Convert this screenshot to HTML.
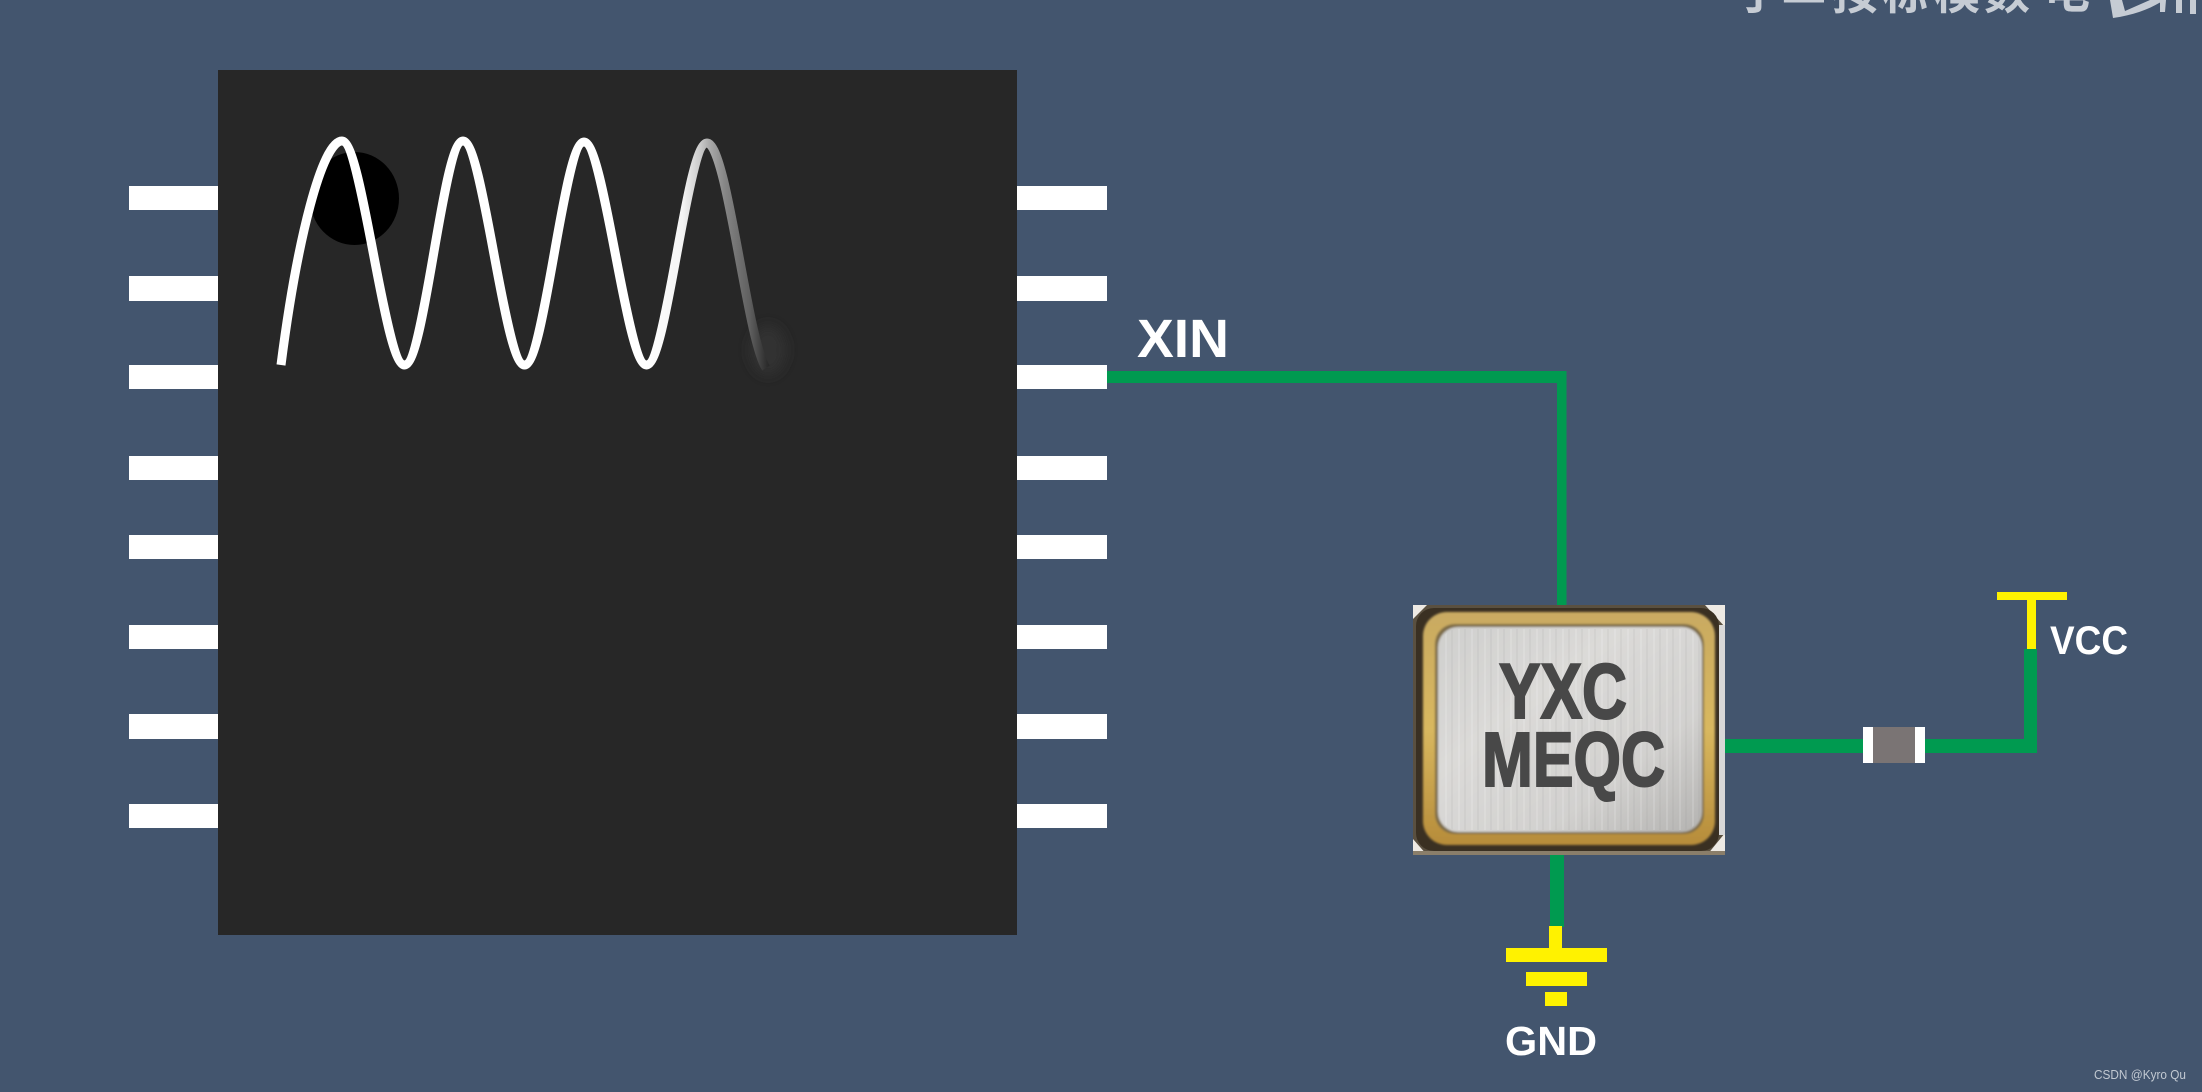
<!DOCTYPE html>
<html><head><meta charset="utf-8"><title>XIN crystal circuit</title>
<style>html,body{margin:0;padding:0;background:#43556e}svg{display:block}</style></head>
<body>
<svg xmlns="http://www.w3.org/2000/svg" width="2202" height="1092" viewBox="0 0 2202 1092">
<defs>
<linearGradient id="fade" gradientUnits="userSpaceOnUse" x1="646" y1="0" x2="768" y2="0">
<stop offset="0" stop-color="#fff"/><stop offset=".3" stop-color="#f4f4f4"/><stop offset=".45" stop-color="#c8c8c8"/><stop offset=".52" stop-color="#aaa"/><stop offset=".65" stop-color="#858585"/><stop offset=".85" stop-color="#606060"/><stop offset="1" stop-color="#2a2a2a"/>
</linearGradient>
<linearGradient id="lid" x1="0" y1="0" x2="1" y2="1">
<stop offset="0" stop-color="#cfcfcd"/><stop offset=".35" stop-color="#dbdad8"/><stop offset=".7" stop-color="#d2d1cf"/><stop offset="1" stop-color="#b4b3b1"/>
</linearGradient>
<linearGradient id="gold" x1="0" y1="0" x2="0" y2="1">
<stop offset="0" stop-color="#c9aa62"/><stop offset=".5" stop-color="#d9b85f"/><stop offset="1" stop-color="#b68c3a"/>
</linearGradient>
<pattern id="brush" width="13" height="10" patternUnits="userSpaceOnUse">
<rect x="2" width="2" height="10" fill="#fff" opacity=".14"/><rect x="8" width="2" height="10" fill="#777" opacity=".08"/>
</pattern>
<filter id="soft" x="-10%" y="-10%" width="120%" height="120%"><feGaussianBlur stdDeviation="1"/></filter>
<filter id="smudge" x="-50%" y="-50%" width="200%" height="200%"><feGaussianBlur stdDeviation="6"/></filter>
</defs>
<rect width="2202" height="1092" fill="#43556e"/>

<!-- watermark cut at top -->
<g font-family="'Liberation Sans','Noto Sans CJK SC',sans-serif" font-weight="700" font-size="46" fill="#c6ccd4">
<text x="1735" y="9">于</text>
<text x="1781" y="1">三</text>
<text x="1832" y="9">按</text>
<text x="1882" y="9">标</text>
<text x="1934" y="9">模</text>
<text x="1984" y="9">数</text>
<text x="2044" y="8">电</text>
</g>
<path d="M2110 0 L2113 18 C2135 15 2152 8 2164 0 L2150 0 L2125 11 L2122 0 Z" fill="#c6ccd4"/>
<path d="M2160 0h6l-1 12h-5zM2176 0h6v13h-6zM2190 0h6v14h-6z" fill="#c6ccd4"/>

<!-- chip -->
<rect x="218" y="70" width="799" height="865" fill="#272727"/>
<g fill="#fff">
<rect x="129" y="186" width="89" height="24"/><rect x="129" y="276" width="89" height="25"/>
<rect x="129" y="365" width="89" height="24"/><rect x="129" y="456" width="89" height="24"/>
<rect x="129" y="535" width="89" height="24"/><rect x="129" y="625" width="89" height="24"/>
<rect x="129" y="714" width="89" height="25"/><rect x="129" y="804" width="89" height="24"/>
<rect x="1017" y="186" width="90" height="24"/><rect x="1017" y="276" width="90" height="25"/>
<rect x="1017" y="365" width="90" height="24"/><rect x="1017" y="456" width="90" height="24"/>
<rect x="1017" y="535" width="90" height="24"/><rect x="1017" y="625" width="90" height="24"/>
<rect x="1017" y="714" width="90" height="25"/><rect x="1017" y="804" width="90" height="24"/>
</g>
<ellipse cx="354.5" cy="198.5" rx="44.5" ry="46.5" fill="#000"/>
<ellipse cx="768" cy="350" rx="18" ry="25" fill="#303030" filter="url(#smudge)"/>
<path d="M281 365 C297 240 322 141 342 141 C362 141 384.500 365 404.500 365 C424.500 365 443 141 463 141 C483 141 504.500 365 524.500 365 C544.500 365 564 142 584 142 C604 142 626.500 365 646.500 365" fill="none" stroke="#fff" stroke-width="9"/>
<path d="M646.500 365 C666.500 365 687 143 707 143 C727 143 747 340 766 368" fill="none" stroke="url(#fade)" stroke-width="9"/>

<!-- wires -->
<g fill="#009a50">
<rect x="1107" y="371" width="459" height="12"/>
<rect x="1557" y="371" width="9.500" height="235"/>
<rect x="1725" y="739" width="138" height="14"/>
<rect x="1925" y="739" width="112" height="14"/>
<rect x="2024" y="649" width="13" height="104"/>
<rect x="1550" y="855" width="14" height="72"/>
</g>

<!-- resistor -->
<rect x="1863" y="727" width="62" height="36" fill="#fff"/>
<rect x="1873" y="727" width="42" height="36" fill="#7a7474"/>

<g fill="#fff200">
<rect x="1997" y="592" width="70" height="8"/>
<rect x="2027" y="600" width="9" height="49"/>
<rect x="1549" y="926" width="13" height="23"/>
<rect x="1506" y="948" width="101" height="14"/>
<rect x="1526" y="972" width="61" height="14"/>
<rect x="1545" y="992" width="22" height="14"/>
</g>

<g font-family="'Liberation Sans',sans-serif" font-weight="700" fill="#fff">
<text x="1137" y="357" font-size="54" textLength="92" lengthAdjust="spacingAndGlyphs">XIN</text>
<text x="1505" y="1055" font-size="41" textLength="92" lengthAdjust="spacingAndGlyphs">GND</text>
<text x="2050" y="654" font-size="40" textLength="78" lengthAdjust="spacingAndGlyphs">VCC</text>
</g>

<!-- crystal -->
<rect x="1413" y="605" width="312" height="250" fill="#5a5040"/>
<path d="M1413 605h14l-14 14zM1725 605h-20l20 22zM1725 855h-18l18-22zM1413 855v-16l14 16z" fill="#eeeae4"/>
<rect x="1719" y="625" width="6" height="210" fill="#d8d8d8"/>
<rect x="1413" y="851" width="312" height="4" fill="#8a7e6a"/>
<rect x="1416" y="608" width="303" height="243" rx="18" fill="#3a3022"/>
<g filter="url(#soft)">
<rect x="1423" y="612" width="292" height="233" rx="24" fill="url(#gold)"/>
<rect x="1435" y="624" width="269" height="210" rx="20" fill="#7d6c46"/>
<rect x="1438" y="627" width="264" height="205" rx="20" fill="url(#lid)"/>
</g>
<rect x="1440" y="629" width="260" height="201" rx="18" fill="url(#brush)"/>
<g font-family="'Liberation Sans',sans-serif" font-weight="700" fill="#484848" stroke="#484848" stroke-width="2">
<text x="1499" y="718" font-size="78" textLength="128" lengthAdjust="spacingAndGlyphs">YXC</text>
<text x="1482" y="786" font-size="77" textLength="183" lengthAdjust="spacingAndGlyphs">MEQC</text>
</g>

<text x="2094" y="1079" font-family="'Liberation Sans',sans-serif" font-size="12.500" fill="#c2c9d2" textLength="92" lengthAdjust="spacingAndGlyphs">CSDN @Kyro Qu</text>
</svg>
</body></html>
